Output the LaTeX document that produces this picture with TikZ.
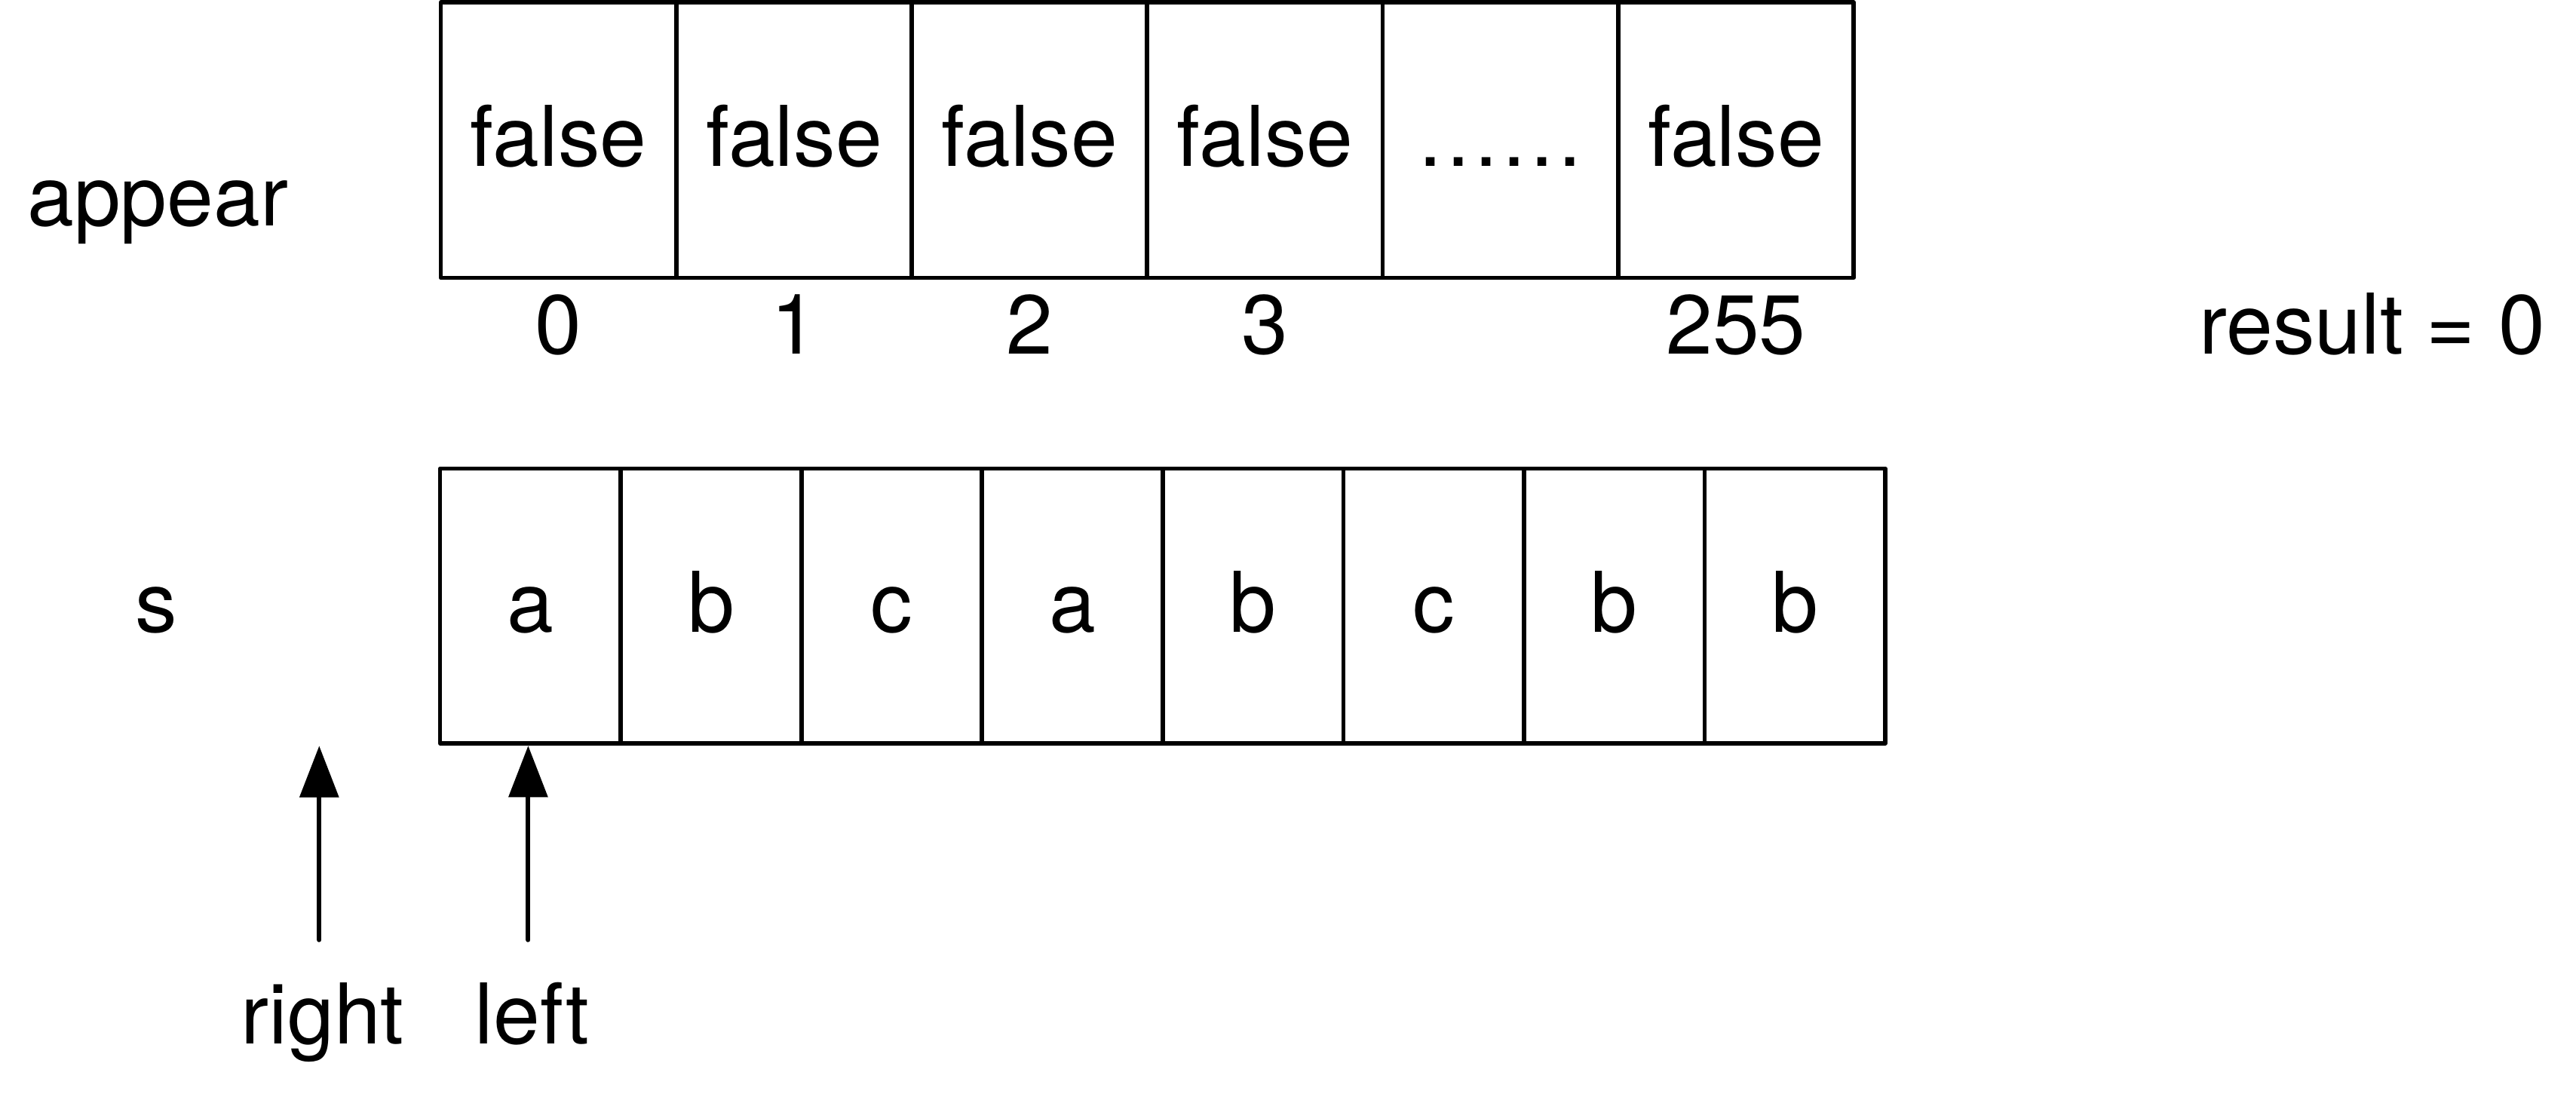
\documentclass[tikz,border=0pt]{standalone}
\usepackage{fontspec}
\setmainfont{TeX Gyre Heros}
\usetikzlibrary{arrows.meta}
\begin{document}
\begin{tikzpicture}[x=1pt,y=-1pt,
  txt/.style={font=\fontsize{51}{60}\selectfont, inner sep=0pt, outer sep=0pt},
  lbl/.style={txt, anchor=base},
  cellA/.style={txt, draw, line width=2.6pt, line join=round, minimum width=143.33pt, minimum height=167.6pt, text height=32pt, text depth=0pt},
  cellS/.style={txt, draw, line width=2.6pt, line join=round, minimum width=109.95pt, minimum height=167.4pt, text height=32pt, text depth=0pt},
  ptr/.style={line width=2.8pt, line cap=round, -{Triangle[length=31.4pt,width=23.5pt]}}]
\useasboundingbox (0,0) rectangle (1568,669.25);
% appear array
\node[cellA] (a0) at (339.97,85.3) {false};
\node[cellA] (a1) at (483.30,85.3) {false};
\node[cellA] (a2) at (626.63,85.3) {false};
\node[cellA] (a3) at (769.97,85.3) {false};
\node[cellA] (a4) at (913.30,85.3) {……};
\node[cellA] (a5) at (1056.63,85.3) {false};
\node[lbl] (i0) at (339.97,215.3) {0};
\node[lbl] (i1) at (483.30,215.3) {1};
\node[lbl] (i2) at (626.63,215.3) {2};
\node[lbl] (i3) at (769.97,215.3) {3};
\node[lbl] (i5) at (1056.63,215.3) {255};
\node[lbl] (appear) at (96.1,137.4) {appear};
\node[lbl] (result) at (1444,215.3) {result = 0};
% s array
\node[cellS] (s0) at (322.88,368.9) {a};
\node[cellS] (s1) at (432.83,368.9) {b};
\node[cellS] (s2) at (542.78,368.9) {c};
\node[cellS] (s3) at (652.73,368.9) {a};
\node[cellS] (s4) at (762.68,368.9) {b};
\node[cellS] (s5) at (872.63,368.9) {c};
\node[cellS] (s6) at (982.58,368.9) {b};
\node[cellS] (s7) at (1092.53,368.9) {b};
\node[lbl] (slbl) at (95,384.8) {s};
% pointers
\coordinate (rb) at (194.3,572.2);
\coordinate (rt) at (194.3,454.1);
\coordinate (lb) at (321.5,572.2);
\draw[ptr] (rb) -- (rt);
\draw[ptr] (lb) -- ([yshift=-1.4pt]lb |- s0.south);
\node[lbl] (right) at (196.3,635.7) {right};
\node[lbl] (left) at (323.8,635.7) {left};
\end{tikzpicture}
\end{document}
